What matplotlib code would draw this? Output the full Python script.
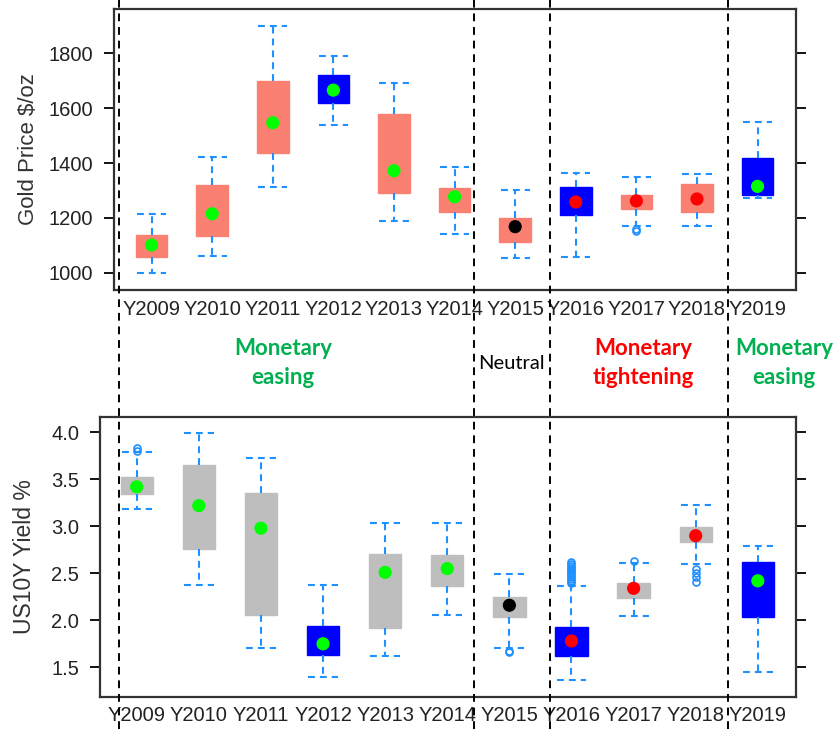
import matplotlib.pyplot as plt
from matplotlib.lines import Line2D
from matplotlib.transforms import blended_transform_factory

years = ["Y2009", "Y2010", "Y2011", "Y2012", "Y2013", "Y2014",
         "Y2015", "Y2016", "Y2017", "Y2018", "Y2019"]

# Gold price $/oz box stats
gold_whislo = [1000, 1062, 1311, 1540, 1188, 1140, 1052, 1057, 1171, 1171, 1271]
gold_q1 = [1056, 1134, 1435, 1618, 1292, 1222, 1113, 1211, 1232, 1222, 1284]
gold_q3 = [1136, 1319, 1699, 1721, 1578, 1308, 1198, 1312, 1282, 1323, 1417]
gold_whishi = [1214, 1422, 1901, 1790, 1692, 1384, 1301, 1363, 1348, 1359, 1549]
gold_mean = [1101, 1215, 1547, 1666, 1372, 1277, 1168, 1258, 1262, 1269, 1315]
gold_fliers = [[], [], [], [], [], [], [], [], [1160, 1153], [], []]

# US 10Y yield % box stats
yld_whislo = [3.18, 2.38, 1.71, 1.40, 1.62, 2.06, 1.71, 1.36, 2.045, 2.60, 1.45]
yld_q1 = [3.34, 2.755, 2.056, 1.63, 1.92, 2.365, 2.03, 1.62, 2.24, 2.83, 2.03]
yld_q3 = [3.52, 3.65, 3.35, 1.94, 2.70, 2.69, 2.25, 1.93, 2.40, 2.99, 2.62]
yld_whishi = [3.79, 3.99, 3.73, 2.38, 3.03, 3.03, 2.49, 2.36, 2.61, 3.23, 2.79]
yld_mean = [3.42, 3.22, 2.98, 1.75, 2.51, 2.55, 2.16, 1.78, 2.34, 2.90, 2.42]
yld_fliers = [[3.80, 3.83], [], [], [], [], [], [1.66, 1.67],
              [2.40, 2.42, 2.44, 2.46, 2.48, 2.50, 2.52, 2.54, 2.56, 2.58, 2.60, 2.62],
              [2.63], [2.55, 2.50, 2.46, 2.41], []]

# regime per year: easing / neutral / tightening
regime = ["E", "E", "E", "E", "E", "E", "N", "T", "T", "T", "E"]
highlight = [False, False, False, True, False, False, False, True, False, False, True]

# period text and divider positions (top axis units)
period_labels = ["Monetary\neasing", "Neutral", "Monetary\ntightening", "Monetary\neasing"]
period_colors = ["#00B050", "black", "#FF0000", "#00B050"]
dividers = [0.465, 6.32, 7.57, 10.51]

mean_color = {"E": "#00FF00", "N": "black", "T": "#FF0000"}
whisk = "#1E90FF"
dash = (0, (3.3, 2.4))
tick_font = "Liberation Sans"

fig = plt.figure(figsize=(8.37, 7.29), dpi=100)
ax1 = fig.add_axes([0.1362, 0.6022, 0.8145, 0.3855])
ax2 = fig.add_axes([0.1195, 0.0443, 0.8312, 0.3841])


def draw_panel(ax, lo, q1, q3, hi, mean, fliers, base_color):
    pos = list(range(1, len(years) + 1))
    stats = []
    for i in range(len(years)):
        stats.append(dict(med=mean[i], q1=q1[i], q3=q3[i], whislo=lo[i],
                          whishi=hi[i], fliers=fliers[i], mean=mean[i]))
    bp = ax.bxp(stats, positions=pos, widths=0.52, capwidths=0.48,
                patch_artist=True, showmeans=False,
                whiskerprops=dict(color=whisk, linestyle=dash, lw=1.5),
                capprops=dict(color=whisk, linestyle=dash, lw=1.5),
                medianprops=dict(visible=False),
                flierprops=dict(marker="o", markerfacecolor="none",
                                markeredgecolor=whisk, markersize=5,
                                markeredgewidth=1.2))
    for box, hl in zip(bp["boxes"], highlight):
        c = "#0000FF" if hl else base_color
        box.set_facecolor(c)
        box.set_edgecolor(c)
    ax.scatter(pos, mean, s=72, c=[mean_color[r] for r in regime], zorder=5)
    ax.set_xticks(pos)
    ax.set_xticklabels(years, fontsize=14.5, family=tick_font, color="#222222")
    ax.tick_params(axis="x", length=0, pad=7)
    ax.tick_params(axis="y", length=7, width=1.3, pad=8, direction="out",
                   right=True, labelsize=14.5, labelcolor="#222222")
    for lab in ax.get_yticklabels():
        lab.set_family(tick_font)
    for sp in ax.spines.values():
        sp.set_linewidth(1.6)
        sp.set_color("#333333")


draw_panel(ax1, gold_whislo, gold_q1, gold_q3, gold_whishi, gold_mean,
           gold_fliers, "#FA8072")
ax1.set_xlim(0.38, 11.63)
ax1.set_ylim(937, 1962)
ax1.set_yticks([1000, 1200, 1400, 1600, 1800])
ax1.set_ylabel("Gold Price $/oz", fontsize=16, family=tick_font, color="#333333")
ax1.yaxis.set_label_coords(-0.11, 0.5)

draw_panel(ax2, yld_whislo, yld_q1, yld_q3, yld_whishi, yld_mean,
           yld_fliers, "#BEBEBE")
ax2.set_xlim(0.41, 11.61)
ax2.set_ylim(1.187, 4.166)
ax2.set_yticks([1.5, 2.0, 2.5, 3.0, 3.5, 4.0])
ax2.set_yticklabels(["1.5", "2.0", "2.5", "3.0", "3.5", "4.0"])
for lab in ax2.get_yticklabels():
    lab.set_family(tick_font)
ax2.set_ylabel("US10Y Yield %", fontsize=16.5, family=tick_font, color="#333333")
ax2.yaxis.set_label_coords(-0.092, 0.5)

# dashed dividers across the whole figure
trans = blended_transform_factory(ax1.transData, fig.transFigure)
for x in dividers:
    fig.add_artist(Line2D([x, x], [0.0, 1.0], transform=trans, color="black",
                          linestyle=(0, (4, 3)), lw=1.4, zorder=10))

# period labels between the panels
text_x = [0.338, 0.6105, 0.769, 0.937]
for lab, col, x in zip(period_labels, period_colors, text_x):
    fig.text(x, 0.502, lab, color=col, ha="center", va="center",
             fontsize=16 if col != "black" else 14.5,
             family="Lato", weight="bold" if col != "black" else "normal",
             linespacing=1.45)

plt.savefig("out.png", dpi=100)
